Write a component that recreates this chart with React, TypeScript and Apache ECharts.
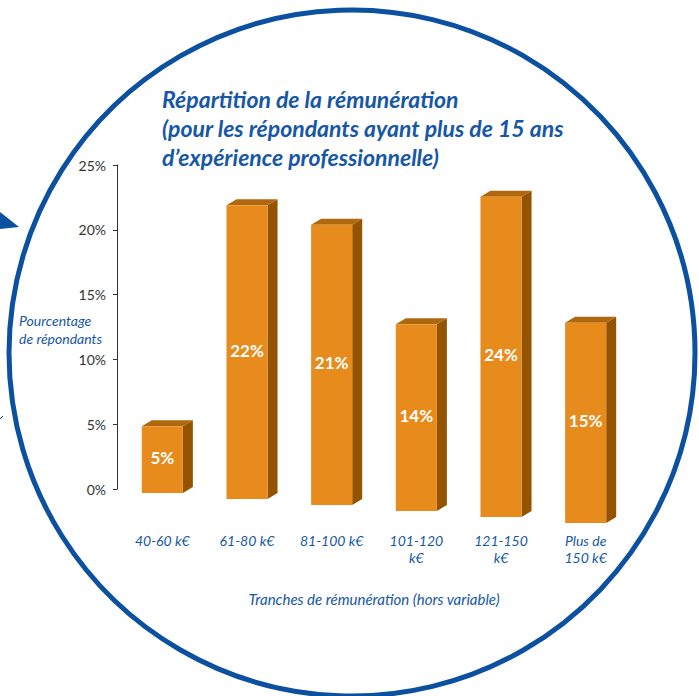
import React, { useEffect, useRef } from "react";
import * as echarts from "echarts";

const categories = ["40-60 k€", "61-80 k€", "81-100 k€", "101-120\nk€", "121-150\nk€", "Plus de\n150 k€"];
const values = [5, 22, 21, 14, 24, 15];
const valueLabels = ["5%", "22%", "21%", "14%", "24%", "15%"];
const yMin = 0;
const yMax = 25;
const yInterval = 5;

const titleText = "Répartition de la rémunération\n(pour les répondants ayant plus de 15 ans\nd’expérience professionnelle)";
const yName = "Pourcentage\nde répondants";
const xName = "Tranches de rémunération (hors variable)";

const BLUE = "#1657a6";
const FRONT = "#e88b1d";
const SIDE = "#935300";
const TOP = "#b0680f";
const FONT = "Lato, 'Open Sans', sans-serif";

export default function App() {
  const ref = useRef<HTMLDivElement>(null);
  useEffect(() => {
    if (!ref.current) return;
    const chart = echarts.init(ref.current, null, { renderer: "svg" });
    const renderItem = (params: any, api: any) => {
      const idx = api.value(0);
      const val = api.value(1);
      const base = api.coord([idx, 0]);
      const top = api.coord([idx, val]);
      const cw = api.size([1, 0])[0];
      const w = cw * 0.485;
      const gx = params.coordSys.x;
      const shift = 4 + (base[0] - gx - cw / 2) * 0.071;
      const h = (base[1] - top[1]) * 1.03;
      const x0 = base[0] - w / 2;
      const x1 = base[0] + w / 2;
      const yb = base[1] + shift;
      const yt = yb - h;
      const dx = 10;
      const dy = -6;
      return {
        type: "group",
        children: [
          {
            type: "polygon",
            shape: { points: [[x1, yt], [x1 + dx, yt + dy], [x1 + dx, yb + dy], [x1, yb]] },
            style: { fill: SIDE },
          },
          {
            type: "polygon",
            shape: { points: [[x0, yt], [x0 + dx, yt + dy], [x1 + dx, yt + dy], [x1, yt]] },
            style: { fill: TOP },
          },
          {
            type: "rect",
            shape: { x: x0, y: yt, width: w, height: h },
            style: { fill: FRONT },
          },
          {
            type: "text",
            x: base[0],
            y: (yt + yb) / 2 - 2,
            style: {
              text: valueLabels[idx],
              fill: "#ffffff",
              font: `bold 17px ${FONT}`,
              align: "center",
              verticalAlign: "middle",
            },
          },
        ],
      };
    };
    chart.setOption({
      animation: false,
      backgroundColor: "#ffffff",
      title: {
        text: titleText,
        left: 157,
        top: 79,
        textStyle: {
          color: BLUE,
          fontFamily: FONT,
          fontSize: 23,
          fontStyle: "italic",
          fontWeight: "bold",
          lineHeight: 29,
        },
      },
      grid: { left: 120, right: 71, top: 165, bottom: 207, containLabel: false },
      xAxis: {
        type: "category",
        data: categories,
        axisLine: { show: false },
        axisTick: { show: false },
        axisLabel: {
          margin: 43,
          color: BLUE,
          fontFamily: FONT,
          fontSize: 14,
          fontStyle: "italic",
          lineHeight: 17,
          interval: 0,
        },
        name: xName,
        nameLocation: "middle",
        nameGap: 102,
        nameTextStyle: { color: BLUE, fontFamily: FONT, fontSize: 15, fontStyle: "italic" },
      },
      yAxis: {
        type: "value",
        min: yMin,
        max: yMax,
        interval: yInterval,
        offset: 3,
        axisLine: { show: true, lineStyle: { color: "#333333", width: 1 } },
        axisTick: { show: true, length: 4, lineStyle: { color: "#333333" } },
        splitLine: { show: false },
        axisLabel: {
          formatter: "{value}%",
          color: "#333333",
          fontFamily: FONT,
          fontSize: 14,
          margin: 11,
        },
      },
      graphic: [
        {
          type: "circle",
          shape: { cx: 352, cy: 353, r: 343 },
          style: { fill: "none", stroke: "#0b51a0", lineWidth: 5 },
          z: -1,
          silent: true,
        },
        {
          type: "polygon",
          shape: { points: [[0, 212], [19, 227], [0, 229]] },
          style: { fill: "#0b51a0" },
          silent: true,
        },
        {
          type: "line",
          shape: { x1: 0, y1: 419, x2: 3, y2: 416 },
          style: { stroke: "#0b51a0", lineWidth: 1 },
          silent: true,
        },
        {
          type: "text",
          left: 19,
          top: 311,
          style: {
            text: yName,
            fill: BLUE,
            font: `italic 14px ${FONT}`,
            lineHeight: 18,
          },
        },
      ],
      series: [
        {
          type: "custom",
          renderItem,
          encode: { x: 0, y: 1 },
          data: values.map((v, i) => [i, v]),
        },
      ],
    });
    return () => chart.dispose();
  }, []);
  return <div ref={ref} style={{ position: "fixed", left: 0, top: 0, width: 699, height: 696 }} />;
}
